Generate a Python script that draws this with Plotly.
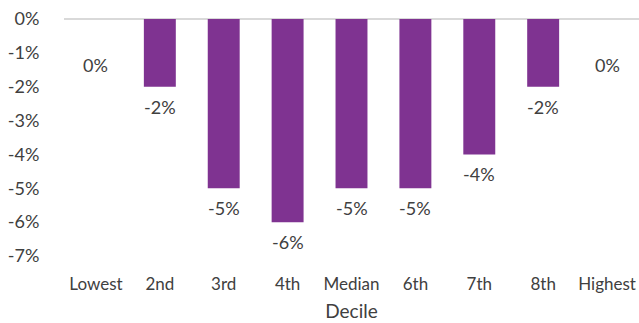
import plotly.graph_objects as go

deciles = ["Lowest", "2nd", "3rd", "4th", "Median", "6th", "7th", "8th", "Highest"]
change_pct = [0, -2, -5, -6, -5, -5, -4, -2, 0]
y_ticks = [0, -1, -2, -3, -4, -5, -6, -7]
y_tick_labels = [f"{v}%" for v in y_ticks]

bar_color = "#7F3391"
text_color = "#404040"
font_family = "Lato, 'Open Sans', sans-serif"

fig = go.Figure()
fig.add_trace(go.Bar(
    x=deciles,
    y=change_pct,
    marker=dict(color=bar_color, line=dict(width=0)),
    hoverinfo="skip",
))

# value labels sit just under each bar end; zero bars get theirs a little lower
for name, v in zip(deciles, change_pct):
    fig.add_annotation(
        x=name, y=v, text=f"{v}%", showarrow=False,
        yshift=-46 if v == 0 else -20,
        font=dict(size=18, color=text_color, family=font_family),
    )

fig.update_layout(
    width=639, height=323,
    margin=dict(l=64, r=0, t=19, b=67),
    plot_bgcolor="white", paper_bgcolor="white",
    bargap=0.5,
    showlegend=False,
    font=dict(family=font_family, color=text_color, size=17),
)
fig.update_xaxes(
    showgrid=False, showline=False, zeroline=False,
    ticks="outside", ticklen=13, tickcolor="rgba(0,0,0,0)",
    tickfont=dict(size=17, color=text_color),
    title=dict(text="Decile", font=dict(size=19, color=text_color), standoff=11),
)
fig.update_yaxes(
    range=[-7, 0], tickvals=y_ticks, ticktext=y_tick_labels,
    showgrid=False, showline=False,
    zeroline=True, zerolinecolor="#D9D9D9", zerolinewidth=1.5,
    ticks="outside", ticklen=20, tickcolor="rgba(0,0,0,0)",
    tickfont=dict(size=18, color=text_color),
)

fig.write_html("out.html")
